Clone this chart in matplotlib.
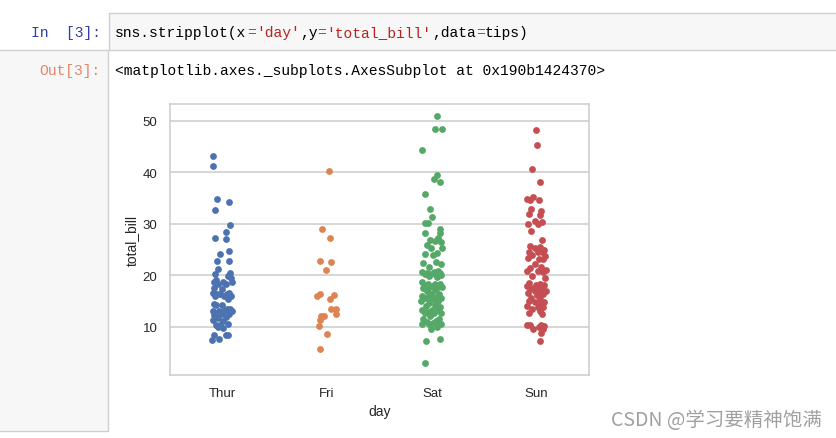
import matplotlib
matplotlib.use("Agg")
import matplotlib.pyplot as plt
from matplotlib.patches import Rectangle

# 画面サイズ(px)
W, H = 837, 439

days = ["Thur", "Fri", "Sat", "Sun"]
colors = ["#4c72b0", "#dd8452", "#55a868", "#c44e52"]

# total_bill (曜日ごと、降順)
thur_bill = [43.11, 41.19, 34.83, 34.30, 32.68, 29.80, 28.44, 27.20, 27.05, 24.71,
             24.08, 22.82, 22.76, 21.16, 20.53, 20.27, 19.81, 19.44, 19.08, 18.78,
             18.71, 18.64, 18.28, 18.26, 17.47, 17.29, 16.66, 16.58, 16.47, 16.43,
             16.40, 16.00, 15.98, 15.95, 15.48, 14.52, 14.26, 14.15, 13.51, 13.42,
             13.16, 13.03, 13.00, 13.00, 12.74, 12.48, 12.43, 12.26, 11.87, 11.69,
             11.38, 11.17, 10.65, 10.34, 10.33, 10.07, 9.78, 8.52, 8.51, 8.35,
             7.56, 7.51]
fri_bill = [40.17, 28.97, 27.28, 22.75, 22.49, 21.01, 16.32, 16.27, 15.98, 15.38,
            13.42, 13.42, 12.46, 12.16, 12.03, 11.35, 10.09, 8.58, 5.75]
sat_bill = [50.81, 48.33, 48.27, 44.30, 39.42, 38.73, 38.01, 35.83, 32.83, 31.27,
            30.14, 30.06, 29.03, 28.17, 28.15, 27.18, 26.86, 26.59, 26.41, 25.89,
            25.28, 25.21, 24.27, 24.06, 24.01, 22.67, 22.42, 22.12, 21.70, 20.92,
            20.69, 20.65, 20.49, 20.45, 20.29, 20.29, 20.23, 20.08, 19.82, 19.65,
            18.69, 18.35, 18.29, 18.24, 17.92, 17.92, 17.82, 17.81, 17.78, 17.59,
            17.07, 16.93, 16.45, 16.31, 16.04, 15.81, 15.77, 15.69, 15.53, 15.36,
            15.06, 15.01, 14.73, 14.31, 14.00, 13.81, 13.37, 13.28, 13.27, 12.90,
            12.76, 12.69, 12.60, 12.02, 11.61, 11.59, 11.24, 11.02, 10.77, 10.63,
            10.59, 10.51, 10.07, 9.55, 7.74, 7.25, 3.07]
sun_bill = [48.17, 45.35, 40.55, 38.07, 35.26, 34.81, 34.65, 34.63, 32.90, 32.40,
            31.85, 31.71, 30.46, 30.40, 29.93, 29.85, 28.55, 26.88, 25.71, 25.56,
            25.29, 25.00, 24.59, 24.55, 24.52, 23.95, 23.68, 23.33, 23.17, 23.10,
            22.23, 21.58, 21.50, 21.01, 20.90, 20.76, 20.69, 19.77, 19.49, 18.43,
            18.29, 18.15, 18.04, 17.89, 17.51, 17.46, 17.31, 17.26, 16.99, 16.97,
            16.82, 16.49, 16.29, 16.21, 15.69, 15.42, 15.04, 14.83, 14.78, 14.48,
            14.07, 13.94, 13.81, 13.39, 13.13, 12.66, 12.54, 10.34, 10.33, 10.29,
            10.27, 9.94, 9.68, 9.60, 8.77, 7.25]

# 横方向のずれ
thur_jitter = [-0.09, -0.09, -0.05, 0.06, -0.07, 0.07, 0.03, -0.07, 0.03, 0.06,
               -0.02, 0.06, -0.05, -0.04, 0.07, -0.07, 0.05, 0.08, -0.06, 0.09,
               -0.08, 0.01, -0.04, 0.03, -0.08, 0.00, 0.06, -0.09, -0.05, 0.04,
               -0.02, 0.08, -0.07, 0.02, 0.05, -0.08, 0.00, -0.06, 0.07, 0.04,
               -0.03, 0.09, -0.09, 0.02, -0.05, -0.01, 0.06, -0.08, 0.03, -0.04,
               -0.09, 0.01, 0.05, -0.06, -0.02, -0.04, 0.01, 0.05, -0.08, 0.03,
               -0.03, -0.10]
fri_jitter = [0.02, -0.045, 0.03, -0.07, 0.04, -0.01, -0.065, 0.065, -0.10, 0.03,
              0.035, 0.08, 0.08, -0.03, -0.06, -0.07, -0.08, 0.00, -0.07]
sat_jitter = [0.045, 0.03, 0.095, -0.09, 0.045, 0.02, 0.08, -0.07, -0.015, 0.00,
              -0.07, -0.035, 0.075, 0.08, -0.07, 0.06, -0.02, 0.03, 0.09, -0.05,
              0.10, -0.01, 0.05, -0.07, 0.01, 0.04, -0.08, 0.09, -0.03, 0.06,
              -0.09, 0.02, 0.08, -0.05, -0.01, 0.04, -0.07, 0.09, -0.03, 0.05,
              -0.09, 0.03, 0.08, -0.04, 0.01, -0.07, 0.06, -0.02, 0.10, -0.08,
              0.03, -0.05, 0.07, -0.01, -0.09, 0.04, -0.04, 0.09, -0.07, 0.01,
              -0.10, 0.06, -0.03, 0.03, -0.06, 0.08, -0.09, 0.00, 0.05, -0.04,
              0.09, -0.07, 0.02, -0.02, 0.07, -0.08, 0.04, -0.05, 0.01, -0.09,
              0.09, -0.03, 0.05, -0.01, 0.08, -0.06, -0.07]
sun_jitter = [-0.01, 0.00, -0.04, 0.03, -0.03, -0.09, 0.02, -0.06, -0.05, 0.04,
              -0.07, 0.03, -0.02, 0.05, -0.08, 0.01, -0.05, 0.05, -0.06, 0.03,
              -0.02, 0.07, -0.07, 0.01, 0.05, -0.04, 0.08, -0.08, 0.02, 0.06,
              -0.02, 0.04, -0.06, 0.09, -0.09, 0.01, 0.06, -0.04, 0.08, -0.07,
              0.03, -0.01, 0.07, -0.09, 0.05, -0.03, 0.02, -0.06, 0.09, -0.02,
              0.04, -0.08, 0.06, 0.00, -0.05, 0.03, -0.07, 0.07, -0.02, 0.04,
              -0.09, 0.01, 0.06, -0.04, 0.03, -0.07, 0.05, -0.09, -0.06, 0.04,
              0.07, 0.02, 0.06, -0.03, 0.04, 0.03]

bills = [thur_bill, fri_bill, sat_bill, sun_bill]
jitters = [thur_jitter, fri_jitter, sat_jitter, sun_jitter]
for b, j in zip(bills, jitters):
    assert len(b) == len(j), (len(b), len(j))

plt.rcParams['font.family'] = ['Liberation Sans', 'DejaVu Sans']

fig = plt.figure(figsize=(W / 100, H / 100), dpi=100)
fig.patch.set_facecolor('white')


def fx(px):
    return px / W


def fy(py):
    return 1 - py / H


# ノートブックの枠
fig.add_artist(Rectangle((fx(109), fy(51)), fx(740), (51 - 14) / H,
                         transform=fig.transFigure, facecolor='#f7f7f7',
                         edgecolor='#cfcfcf', lw=1))
fig.add_artist(Rectangle((fx(-5), fy(432)), fx(113), (432 - 51) / H,
                         transform=fig.transFigure, facecolor='#f7f7f7',
                         edgecolor='#cfcfcf', lw=1))

mono = 'Liberation Mono'
cw = 8.8  # 1文字の幅(px)
fig.text(fx(101), fy(33), 'In  [3]:', ha='right', va='center',
         family=mono, fontsize=10.5, color='#303F9F')
segments = [("sns.stripplot(x", '#000000'), ("=", '#AA22FF'), ("'day'", '#BA2121'),
            (",y", '#000000'), ("=", '#AA22FF'), ("'total_bill'", '#BA2121'),
            (",data", '#000000'), ("=", '#AA22FF'), ("tips)", '#000000')]
pos = 115
for s, c in segments:
    fig.text(fx(pos), fy(33), s, ha='left', va='center',
             family=mono, fontsize=10.5, color=c)
    pos += cw * len(s)

fig.text(fx(101), fy(71), 'Out[3]:', ha='right', va='center',
         family=mono, fontsize=10.5, color='#e0866a')
fig.text(fx(115), fy(71), '<matplotlib.axes._subplots.AxesSubplot at 0x190b1424370>',
         ha='left', va='center', family=mono, fontsize=10.5, color='#000000')

# ストリッププロット
ax = fig.add_axes([fx(170), fy(376), (589 - 170) / W, (376 - 105) / H])
for i in range(len(days)):
    xs = [i + j for j in jitters[i]]
    ax.scatter(xs, bills[i], s=24, color=colors[i], linewidths=0, zorder=3)

ax.set_xlim(-0.5, 3.5)
ax.set_ylim(0.68, 53.2)
ax.set_xticks(range(len(days)))
ax.set_xticklabels(days)
ax.set_yticks([10, 20, 30, 40, 50])
ax.tick_params(axis='both', length=0, labelsize=9.5, colors='#262626')
ax.tick_params(axis='y', pad=9)
ax.tick_params(axis='x', pad=9)
ax.yaxis.grid(True, color='#cccccc', lw=1.1)
ax.set_axisbelow(True)
for sp in ax.spines.values():
    sp.set_color('#cccccc')
    sp.set_linewidth(1.1)
ax.set_xlabel('day', fontsize=10, color='#262626', labelpad=3)
ax.set_ylabel('total_bill', fontsize=10, color='#262626', labelpad=3)

fig.text(fx(822), fy(421), 'CSDN @学习要精神饱满', ha='right', va='center',
         family=['Noto Sans CJK SC', 'DejaVu Sans'], fontsize=14, color='#a0a0a0')

fig.savefig('out.png', dpi=100)
